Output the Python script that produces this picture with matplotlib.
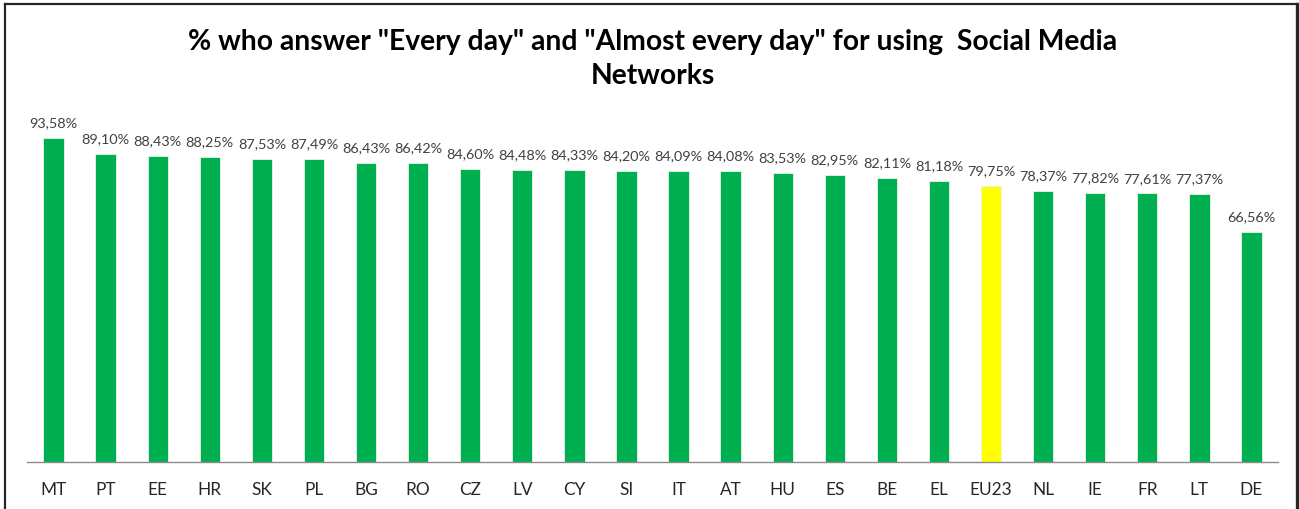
import matplotlib
matplotlib.use("Agg")
import matplotlib.pyplot as plt
from matplotlib.lines import Line2D

countries = ["MT", "PT", "EE", "HR", "SK", "PL", "BG", "RO", "CZ", "LV", "CY", "SI",
             "IT", "AT", "HU", "ES", "BE", "EL", "EU23", "NL", "IE", "FR", "LT", "DE"]
values = [93.58, 89.10, 88.43, 88.25, 87.53, 87.49, 86.43, 86.42, 84.60, 84.48, 84.33, 84.20,
          84.09, 84.08, 83.53, 82.95, 82.11, 81.18, 79.75, 78.37, 77.82, 77.61, 77.37, 66.56]
highlight = "EU23"

W, H = 1299, 510
plt.rcParams["font.family"] = ["Lato", "DejaVu Sans"]

fig = plt.figure(figsize=(W / 100, H / 100), dpi=100)
ax = fig.add_axes([27 / W, 47 / H, (1278 - 27) / W, 346 / H])

colors = ["#FFFF00" if c == highlight else "#00B050" for c in countries]
x = range(len(countries))
ax.bar(x, values, width=0.39, color=colors, edgecolor="#E8F5EC", linewidth=0.6)

for i, v in enumerate(values):
    ax.text(i, v + 2.8, f"{v:.2f}%".replace(".", ","), ha="center", va="bottom",
            fontsize=10.4, color="#404040")

ax.set_xlim(-0.51, len(countries) - 0.49)
ax.set_ylim(0, 100)
ax.set_xticks(list(x))
ax.set_xticklabels(countries, fontsize=12.4, color="#262626")
ax.tick_params(axis="x", length=0, pad=14)
ax.set_yticks([])
for s in ["top", "left", "right"]:
    ax.spines[s].set_visible(False)
ax.spines["bottom"].set_color("#8C8C8C")
ax.spines["bottom"].set_linewidth(1.0)

fig.text(653 / W, 1 - 42 / H, '% who answer "Every day" and "Almost every day" for using  Social Media',
         ha="center", va="center", fontsize=20.3, fontweight="bold", color="black")
fig.text(653 / W, 1 - 76 / H, "Networks",
         ha="center", va="center", fontsize=20.3, fontweight="bold", color="black")

# outer frame of the chart box
def px_line(x0, y0, x1, y1, lw):
    fig.add_artist(Line2D([x0 / W, x1 / W], [1 - y0 / H, 1 - y1 / H],
                          transform=fig.transFigure, color="#262626", linewidth=lw))

px_line(5.5, 5, 5.5, H, 1.6)
px_line(5, 5, 1297, 5, 1.6)
px_line(1297, 5, 1297, H, 2.4)

fig.savefig("out.png", dpi=100)
